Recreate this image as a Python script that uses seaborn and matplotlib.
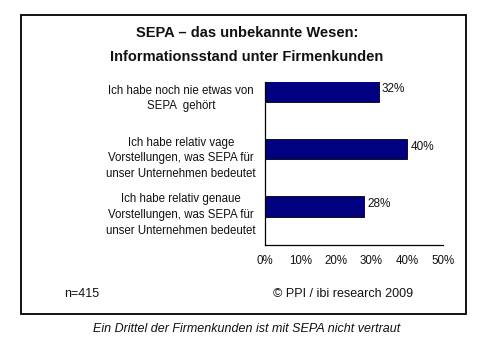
import numpy as np
import pandas as pd
import matplotlib.pyplot as plt
import matplotlib.transforms as mtransforms
from matplotlib.patches import Rectangle
import seaborn as sns

# Data
answers = [
    'Ich habe noch nie etwas von\nSEPA  gehört',
    'Ich habe relativ vage\nVorstellungen, was SEPA für\nunser Unternehmen bedeutet',
    'Ich habe relativ genaue\nVorstellungen, was SEPA für\nunser Unternehmen bedeutet',
]
shares = [32, 40, 28]
xtick_values = [0, 10, 20, 30, 40, 50]

df = pd.DataFrame({'Antwort': answers, 'Anteil': shares})

sns.set_style('white')
plt.rcParams['font.family'] = ['Liberation Sans', 'DejaVu Sans']

W, H = 494, 351
fig = plt.figure(figsize=(W / 100, H / 100), dpi=100)

def px_x(x):
    return x / W

def px_y(y):
    return 1 - y / H

# Outer frame
fig.patches.append(Rectangle((px_x(20.7), px_y(313.5)), px_x(466.3) - px_x(20.7), px_y(15) - px_y(313.5),
                             transform=fig.transFigure, fill=False, edgecolor='black', lw=1.3))

ax = fig.add_axes([px_x(264.7), px_y(245), px_x(442.7) - px_x(264.7), px_y(81.7) - px_y(245)])

sns.barplot(data=df, x='Anteil', y='Antwort', orient='h', color='#000080',
            edgecolor='black', linewidth=0.6, width=0.36, saturation=1, ax=ax)

ax.set_xlim(0, 50)
ax.set_ylim(2.67, -0.17)
ax.set_xticks(xtick_values)
ax.set_xticklabels([f'{v}%' for v in xtick_values], fontsize=8.3, color='#111111')
ax.set_yticks([-0.17, 0.67, 1.67, 2.67])
ax.set_yticklabels([])
ax.tick_params(axis='both', direction='out', length=3.5, width=0.8, color='black')
ax.tick_params(axis='x', pad=4)
ax.set_xlabel('')
ax.set_ylabel('')
for side in ['top', 'right']:
    ax.spines[side].set_visible(False)
for side in ['left', 'bottom']:
    ax.spines[side].set_color('black')
    ax.spines[side].set_linewidth(0.9)

# Category labels
trans = mtransforms.blended_transform_factory(fig.transFigure, ax.transData)
label_offsets = [0.12, 0.16, 0.15]
for i, (lab, off) in enumerate(zip(answers, label_offsets)):
    ax.text(px_x(181), i + off, lab, transform=trans, ha='center', va='center',
            multialignment='center', fontsize=8.3, linespacing=1.4, color='#111111')

# Value labels
for i, v in enumerate(shares):
    ax.text(v + 0.9, i - 0.04, f'{v}%', ha='left', va='center', fontsize=8.5, color='#111111')

# Title
fig.text(0.5, px_y(33), 'SEPA – das unbekannte Wesen:', ha='center', va='center',
         fontsize=10.5, fontweight='bold', color='#111111')
fig.text(0.5, px_y(57), 'Informationsstand unter Firmenkunden', ha='center', va='center',
         fontsize=10.5, fontweight='bold', color='#111111')

# Footer
fig.text(px_x(64), px_y(294), 'n=415', ha='left', va='center', fontsize=9, color='#111111')
fig.text(px_x(343), px_y(294), '© PPI / ibi research 2009', ha='center', va='center',
         fontsize=9, color='#111111')
fig.text(0.5, px_y(329), 'Ein Drittel der Firmenkunden ist mit SEPA nicht vertraut', ha='center',
         va='center', fontsize=9, style='italic', color='#111111')

fig.savefig('out.png', dpi=100)
